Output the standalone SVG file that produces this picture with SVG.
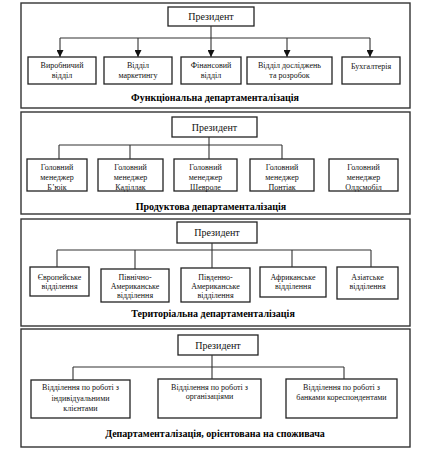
<svg xmlns="http://www.w3.org/2000/svg" width="433" height="452" viewBox="0 0 433 452">
<defs>
<style>
.panel{fill:#fff;stroke:#333;stroke-width:1.4}
.box{fill:#fff;stroke:#222;stroke-width:1.3}
.ln{fill:none;stroke:#333;stroke-width:1.1}
.t{font-family:"Liberation Serif","Times New Roman",serif;font-size:8px;fill:#111;text-anchor:middle}
.p{font-family:"Liberation Serif","Times New Roman",serif;font-size:10px;fill:#111;text-anchor:middle}
.h{font-family:"Liberation Serif","Times New Roman",serif;font-size:10px;font-weight:bold;fill:#000;text-anchor:middle}
</style>
<marker id="ar" viewBox="0 0 8 8" refX="8" refY="4" markerWidth="7" markerHeight="7" markerUnits="userSpaceOnUse" orient="auto">
<path d="M0,0 L8,4 L0,8 Z" fill="#111"/>
</marker>
</defs>
<rect width="433" height="452" fill="#fff"/>

<!-- Panel 1 -->
<g id="panel1">
<rect class="panel" x="21" y="3" width="389" height="105"/>
<text class="h" x="215" y="101">Функціональна департаменталізація</text>
</g>
<g id="p1-president"><rect class="box" x="168" y="7" width="86" height="19"/><text class="p" x="211" y="20">Президент</text></g>
<g id="p1-n1"><rect class="box" x="28" y="57" width="68" height="27"/><text class="t" x="62" y="67.5">Виробничий</text><text class="t" x="62" y="77.5">відділ</text></g>
<g id="p1-n2"><rect class="box" x="104" y="57" width="68" height="27"/><text class="t" x="138" y="67.5">Відділ</text><text class="t" x="138" y="77.5">маркетингу</text></g>
<g id="p1-n3"><rect class="box" x="181" y="57" width="60" height="27"/><text class="t" x="211" y="67.5">Фінансовий</text><text class="t" x="211" y="77.5">відділ</text></g>
<g id="p1-n4"><rect class="box" x="247" y="57" width="85" height="27"/><text class="t" x="289.5" y="67.5">Відділ досліджень</text><text class="t" x="289.5" y="77.5">та розробок</text></g>
<g id="p1-n5"><rect class="box" x="342" y="57" width="58" height="27"/><text class="t" x="371" y="69">Бухгалтерія</text></g>

<!-- Panel 2 -->
<g id="panel2">
<rect class="panel" x="21" y="112" width="389" height="102"/>
<text class="h" x="211" y="210">Продуктова департаменталізація</text>
</g>
<g id="p2-president"><rect class="box" x="172" y="117" width="85" height="20"/><text class="p" x="214.5" y="130.5">Президент</text></g>
<g id="p2-n1"><rect class="box" x="27" y="159" width="60" height="32"/><text class="t" x="57" y="170">Головний</text><text class="t" x="57" y="180">менеджер</text><text class="t" x="57" y="190">Б’юік</text></g>
<g id="p2-n2"><rect class="box" x="98" y="159" width="65" height="32"/><text class="t" x="130.5" y="170">Головний</text><text class="t" x="130.5" y="180">менеджер</text><text class="t" x="130.5" y="190">Каділлак</text></g>
<g id="p2-n3"><rect class="box" x="174" y="159" width="63" height="32"/><text class="t" x="205.5" y="170">Головний</text><text class="t" x="205.5" y="180">менеджер</text><text class="t" x="205.5" y="190">Шевроле</text></g>
<g id="p2-n4"><rect class="box" x="250" y="159" width="64" height="32"/><text class="t" x="282" y="170">Головний</text><text class="t" x="282" y="180">менеджер</text><text class="t" x="282" y="190">Понтіак</text></g>
<g id="p2-n5"><rect class="box" x="329" y="159" width="69" height="32"/><text class="t" x="363.5" y="170">Головний</text><text class="t" x="363.5" y="180">менеджер</text><text class="t" x="363.5" y="190">Олдсмобіл</text></g>

<!-- Panel 3 -->
<g id="panel3">
<rect class="panel" x="21" y="219" width="389" height="107"/>
<text class="h" x="213" y="317">Територіальна департаменталізація</text>
</g>
<g id="p3-president"><rect class="box" x="177" y="222" width="80" height="21"/><text class="p" x="217" y="236">Президент</text></g>
<g id="p3-n1"><rect class="box" x="30" y="267" width="59" height="29"/><text class="t" x="59.5" y="279.5">Європейське</text><text class="t" x="59.5" y="288.5">відділення</text></g>
<g id="p3-n2"><rect class="box" x="101" y="269" width="68" height="33"/><text class="t" x="135" y="279.5">Північно-</text><text class="t" x="135" y="288.5">Американське</text><text class="t" x="135" y="297.5">відділення</text></g>
<g id="p3-n3"><rect class="box" x="181" y="268" width="69" height="34"/><text class="t" x="215.5" y="279.5">Південно-</text><text class="t" x="215.5" y="288.5">Американське</text><text class="t" x="215.5" y="297.5">відділення</text></g>
<g id="p3-n4"><rect class="box" x="260" y="267" width="66" height="30"/><text class="t" x="293" y="279.5">Африканське</text><text class="t" x="293" y="288.5">відділення</text></g>
<g id="p3-n5"><rect class="box" x="337" y="267" width="61" height="32"/><text class="t" x="367.5" y="279.5">Азіатське</text><text class="t" x="367.5" y="288.5">відділення</text></g>

<!-- Panel 4 -->
<g id="panel4">
<rect class="panel" x="21" y="329" width="389" height="118"/>
<text class="h" x="215" y="437">Департаменталізація, орієнтована на споживача</text>
</g>
<g id="p4-president"><rect class="box" x="178" y="335" width="80" height="20"/><text class="p" x="218" y="348.5">Президент</text></g>
<g id="p4-n1"><rect class="box" x="31" y="380" width="99" height="38"/><text class="t" x="80.5" y="389.5">Відділення по роботі з</text><text class="t" x="80.5" y="401">індивідуальними</text><text class="t" x="80.5" y="411">клієнтами</text></g>
<g id="p4-n2"><rect class="box" x="158" y="379" width="103" height="39"/><text class="t" x="209.5" y="389.5">Відділення по роботі з</text><text class="t" x="209.5" y="398.5">організаціями</text></g>
<g id="p4-n3"><rect class="box" x="286" y="379" width="111" height="39"/><text class="t" x="341.5" y="389.5">Відділення по роботі з</text><text class="t" x="341.5" y="399.5">банками кореспондентами</text></g>

<!-- Connectors -->
<g id="connectors">
<path class="ln" d="M211,26 V57" marker-end="url(#ar)"/>
<path class="ln" d="M60,38 H370"/>
<path class="ln" d="M60,38 V57" marker-end="url(#ar)"/>
<path class="ln" d="M138,38 V57" marker-end="url(#ar)"/>
<path class="ln" d="M287,38 V57" marker-end="url(#ar)"/>
<path class="ln" d="M370,38 V57" marker-end="url(#ar)"/>

<path class="ln" d="M209,137 V159 M59,145 H282 M59,145 V159 M130,145 V159 M282,145 V159"/>

<path class="ln" d="M212,243 V268 M57,250 H371 M57,250 V267 M135,250 V269 M292,250 V267 M371,250 V267"/>

<path class="ln" d="M212,355 V379 M73,367 H344 M73,367 V380 M344,367 V379"/>
</g>
</svg>
